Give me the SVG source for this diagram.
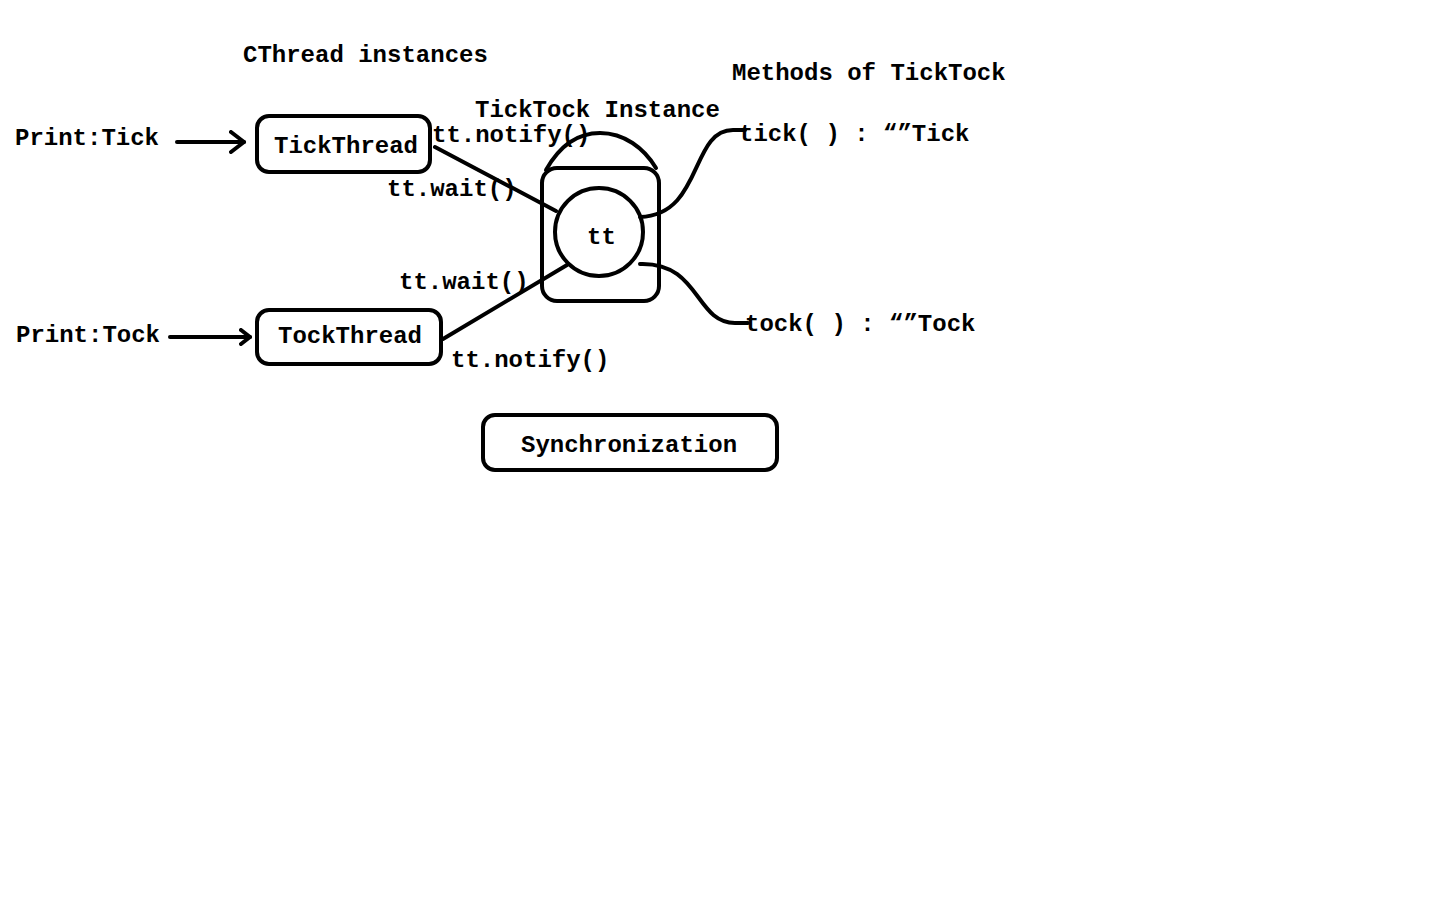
<svg xmlns="http://www.w3.org/2000/svg" width="1440" height="900" viewBox="0 0 1440 900">
<style>
text{font-family:"Liberation Mono","Courier New",monospace;font-weight:bold;font-size:24px;fill:#000}
.s{fill:none;stroke:#000;stroke-width:4;stroke-linecap:round;stroke-linejoin:round}
</style>
<defs>
<marker id="ah" markerWidth="18" markerHeight="24" refX="15" refY="12" orient="auto" markerUnits="userSpaceOnUse">
<path d="M2,2 L15,12 L2,22" fill="none" stroke="#000" stroke-width="4" stroke-linecap="round" stroke-linejoin="round"/>
</marker>
<marker id="ah2" markerWidth="14" markerHeight="18" refX="11" refY="9" orient="auto" markerUnits="userSpaceOnUse">
<path d="M2,2 L11,9 L2,16" fill="none" stroke="#000" stroke-width="4" stroke-linecap="round" stroke-linejoin="round"/>
</marker>
</defs>
<rect width="1440" height="900" fill="#fff"/>
<text x="243" y="62">CThread instances</text>
<text x="732" y="80">Methods of TickTock</text>
<g id="ticktock-instance">
<path class="s" d="M546,170 C560,145 578,133 600,133 C624,133 644,148 656,168"/>
<rect class="s" x="542" y="168" width="117" height="133" rx="15"/>
<text x="475" y="117">TickTock Instance</text>
</g>
<g id="tt">
<circle class="s" cx="599" cy="232" r="44"/>
<text x="587" y="244">tt</text>
</g>
<g id="tickthread">
<rect class="s" x="257" y="116" width="173" height="56" rx="12"/>
<text x="274" y="153">TickThread</text>
</g>
<g id="tockthread">
<rect class="s" x="257" y="310" width="184" height="54" rx="12"/>
<text x="278" y="343">TockThread</text>
</g>
<g id="synchronization">
<rect class="s" x="483" y="415" width="294" height="55" rx="12"/>
<text x="521" y="452">Synchronization</text>
</g>
<g id="print-tick"><text x="15" y="145">Print:Tick</text></g>
<g id="print-tock"><text x="16" y="342">Print:Tock</text></g>
<g id="tick-method"><text x="739" y="141">tick( ) : “”Tick</text></g>
<g id="tock-method"><text x="745" y="331">tock( ) : “”Tock</text></g>
<g id="connectors">
<line class="s" x1="177" y1="142" x2="244" y2="142" marker-end="url(#ah)"/>
<line class="s" x1="170" y1="337" x2="250" y2="337" marker-end="url(#ah2)"/>
<line class="s" x1="435" y1="147" x2="556" y2="211"/>
<line class="s" x1="443" y1="339" x2="567" y2="265"/>
<path class="s" d="M640,217 C703,215 690,130 733,130 L745,130"/>
<path class="s" d="M640,264 C700,262 695,323 735,323 L748,323"/>
<text x="432" y="142">tt.notify()</text>
<text x="387" y="196">tt.wait()</text>
<text x="399" y="289">tt.wait()</text>
<text x="451" y="367">tt.notify()</text>
</g>
</svg>
